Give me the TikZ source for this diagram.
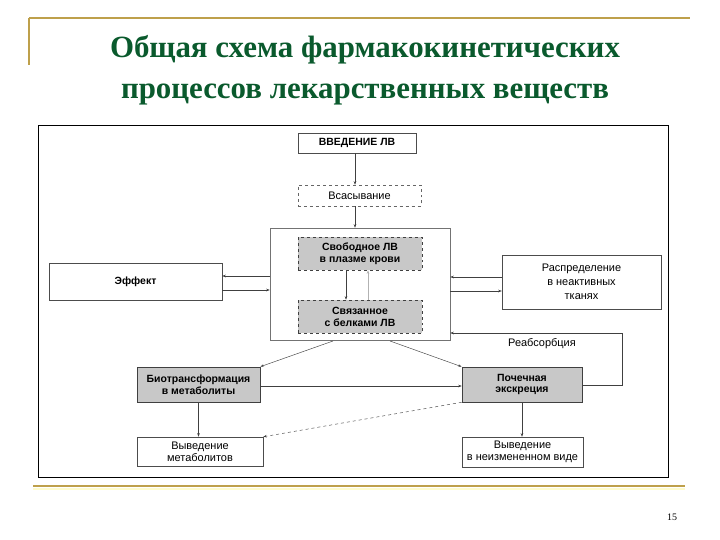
\documentclass[tikz,border=0pt]{standalone}
\usepackage{fontspec}
\setmainfont{Liberation Serif}
\setsansfont{Liberation Sans}
\usetikzlibrary{arrows.meta}
\definecolor{gold}{RGB}{190,160,75}
\definecolor{titlegreen}{RGB}{10,90,45}
\definecolor{boxgray}{RGB}{200,200,200}
\tikzset{
  lbl/.style={font=\sffamily\fontsize{11}{12}\selectfont, align=center, inner sep=0pt},
  blbl/.style={lbl, font=\sffamily\bfseries\fontsize{10.5}{12}\selectfont},
  plainbox/.style={draw=black!70, line width=0.5pt, fill=white},
  dashbox/.style={draw=black!60, line width=0.5pt, dashed, fill=white},
  graybox/.style={draw=black!75, line width=0.6pt, dashed, fill=boxgray},
  darkbox/.style={draw=black!75, line width=0.6pt, fill=boxgray},
  conn/.style={draw=black!75, line width=0.45pt, -{Stealth[length=3.5pt,width=2.5pt]}},
}
\begin{document}
\begin{tikzpicture}[x=1bp,y=-1bp]
\useasboundingbox (0,0) rectangle (720,540);
\fill[white] (0,0) rectangle (720,540);
% slide decoration
\draw[gold, line width=2pt] (29,18) -- (690,18);
\draw[gold, line width=2pt] (29,18) -- (29,65);
\draw[yellow!20, line width=3pt] (33,489) -- (685,489);
\draw[gold, line width=2.5pt] (33,486) -- (685,486);
\node[font=\bfseries\fontsize{31}{41}\selectfont, text=titlegreen, align=center] (title) at (365,70)
  {Общая схема фармакокинетических\\процессов лекарственных веществ};
\node[font=\fontsize{10}{11}\selectfont] (pg) at (672,517) {15};
% frame
\draw[black, line width=1pt] (38,126) rectangle (668,477);
% plasma big box
\node[draw=black!55, line width=0.5pt, minimum width=180bp, minimum height=112bp, inner sep=0pt] (plasma) at (360,284) {};
% boxes
\node[plainbox, minimum width=118bp, minimum height=20bp] (intro) at (357,143) {};
\node[blbl] at (intro) {ВВЕДЕНИЕ ЛВ};
\node[dashbox, minimum width=123bp, minimum height=21bp] (absorb) at (359.5,195.5) {};
\node[lbl] at (absorb) {Всасывание};
\node[graybox, minimum width=124bp, minimum height=33bp] (free) at (360,253.5) {};
\node[blbl] at (free) {Свободное ЛВ\\в плазме крови};
\node[graybox, minimum width=124bp, minimum height=33bp] (bound) at (360,316.5) {};
\node[blbl] at (bound) {Связанное\\с белками ЛВ};
\node[plainbox, minimum width=173bp, minimum height=37bp] (effect) at (135.5,281.5) {};
\node[blbl] at (effect) {Эффект};
\node[plainbox, minimum width=159bp, minimum height=54bp] (dist) at (581.5,282) {};
\node[lbl, font=\sffamily\fontsize{11}{14}\selectfont] at (dist) {Распределение\\в неактивных\\тканях};
\node[darkbox, minimum width=123bp, minimum height=35bp] (bio) at (198.5,384.5) {};
\node[blbl] at (bio) {Биотрансформация\\в метаболиты};
\node[darkbox, minimum width=120bp, minimum height=35bp] (renal) at (522,384.5) {};
\node[blbl] at (renal) {Почечная\\экскреция};
\node[plainbox, minimum width=126bp, minimum height=29bp] (met) at (200,451.5) {};
\node[lbl] at (met) {Выведение\\метаболитов};
\node[plainbox, minimum width=121bp, minimum height=30bp] (unch) at (522.5,452) {};
\node[lbl] at (unch) {Выведение\\в неизмененном виде};
% connectors
\draw[conn] (intro.south -| 355,0) -- (absorb.north -| 355,0);
\draw[conn] (absorb.south -| 355,0) -- (plasma.north -| 355,0);
\draw[conn] (free.south -| 346,0) -- (bound.north -| 346,0);
\draw[conn, draw=black!30] (bound.north -| 368,0) -- (free.south -| 368,0);
\draw[conn] (plasma.west |- 0,276) -- (effect.east |- 0,276);
\draw[conn] (effect.east |- 0,290) -- (plasma.west |- 0,290);
\draw[conn] (dist.west |- 0,277) -- (plasma.east |- 0,277);
\draw[conn] (plasma.east |- 0,291) -- (dist.west |- 0,291);
\draw[conn] (333,341) -- (bio.north east);
\draw[conn] (390,341) -- (renal.north west);
\draw[conn] (bio.east |- 0,386) -- (renal.west |- 0,386);
\coordinate (rr) at (622,385);
\coordinate (rt) at (622,333);
\draw[conn] (renal.east |- rr) -- (rr) -- (rt) -- (plasma.east |- rt);
\node[lbl] (reab) at (542,344) {Реабсорбция};
\draw[conn] (bio.south) -- (met.north -| bio.south);
\draw[conn, dashed] (renal.south west) -- (met.north east);
\draw[conn] (renal.south) -- (unch.north -| renal.south);
\end{tikzpicture}
\end{document}
